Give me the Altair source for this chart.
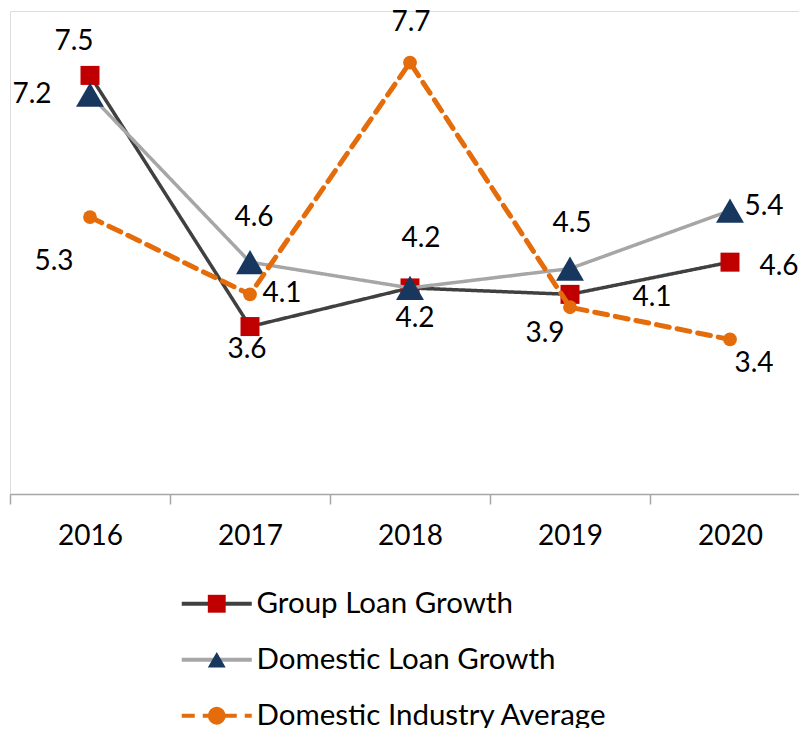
import altair as alt
import pandas as pd

# ---- data ----
years = ["2016", "2017", "2018", "2019", "2020"]
series_names = ["Group Loan Growth", "Domestic Loan Growth", "Domestic Industry Average"]
group_loan = [7.5, 3.6, 4.2, 4.1, 4.6]
domestic_loan = [7.2, 4.6, 4.2, 4.5, 5.4]
industry_avg = [5.3, 4.1, 7.7, 3.9, 3.4]

# ---- label nudges (pixels, relative to each marker), per series ----
label_dx = [[-16, -3, 5, 82, 49], [-58, 4, 11, 2, 34], [-36, 32, 1, -25, 24]]
label_dy = [[-33, 23, 31, 4, 5], [0, -44, -49, -45, -4], [45, 0, -40, 27, 25]]

# ---- styles ----
line_colors = ["#404040", "#A6A6A6", "#E46C0A"]
line_widths = [3.5, 3.5, 5]
dashes = [[1, 0], [1, 0], [13, 8]]
marker_keys = ["m1", "m2", "m3"]
marker_shapes = ["square", "triangle-up", "circle"]
marker_colors = ["#C00000", "#17375E", "#E46C0A"]
marker_sizes = [361, 780, 190]
FONT = "Lato"
FS = 28
LFS = 29.5

values = [group_loan, domestic_loan, industry_avg]
rows = []
for si, s in enumerate(series_names):
    for yi, y in enumerate(years):
        rows.append({"year": y, "series": s, "mk": marker_keys[si],
                     "value": values[si][yi], "label": f"{values[si][yi]:.1f}"})
df = pd.DataFrame(rows)

base = alt.Chart(df)

x_enc = alt.X(
    "year:N",
    scale=alt.Scale(type="band", domain=years, range=[0, 800], paddingInner=0, paddingOuter=0),
    axis=alt.Axis(title=None, domainColor="#A6A6A6", domainWidth=1.5, tickColor="#A6A6A6",
                  tickWidth=1.5, tickSize=10, tickBand="extent", labelFont=FONT,
                  labelFontSize=FS, labelColor="#000000", labelPadding=18, labelAngle=0,
                  grid=False),
)
y_enc = alt.Y("value:Q", scale=alt.Scale(domain=[1, 8.5], nice=False, zero=False), axis=None)

LX, LY, RP = 192, 578, 25
line_legend = alt.Legend(title=None, orient="none", legendX=LX, legendY=LY, padding=0,
                         symbolType="M-5,0L5,0", symbolSize=196, symbolStrokeWidth=4,
                         labelFont=FONT, labelFontSize=LFS, labelColor="#000000",
                         labelOffset=25, rowPadding=RP, labelLimit=0)
mk_legend = alt.Legend(title=None, orient="none", legendX=LX, legendY=LY, padding=0,
                       symbolSize=320, symbolStrokeWidth=0, labelOpacity=0,
                       labelFont=FONT, labelFontSize=LFS, labelOffset=25, rowPadding=RP,
                       labelLimit=0)

color_enc = alt.Color("series:N", scale=alt.Scale(domain=series_names, range=line_colors),
                      legend=line_legend)
dash_enc = alt.StrokeDash("series:N", scale=alt.Scale(domain=series_names, range=dashes),
                          legend=line_legend)
shape_enc = alt.Shape("mk:N", scale=alt.Scale(domain=marker_keys, range=marker_shapes),
                      legend=mk_legend)
fill_enc = alt.Fill("mk:N", scale=alt.Scale(domain=marker_keys, range=marker_colors),
                    legend=mk_legend)

layers = []
for si, s in enumerate(series_names):
    sub = base.transform_filter(alt.datum.series == s)
    layers.append(
        sub.mark_line(strokeWidth=line_widths[si], strokeJoin="round",
                      strokeCap="round" if si == 2 else "butt")
        .encode(x=x_enc, y=y_enc, color=color_enc, strokeDash=dash_enc)
    )
    layers.append(
        sub.mark_point(filled=True, size=marker_sizes[si], opacity=1, strokeWidth=0)
        .encode(x=x_enc, y=y_enc, shape=shape_enc, fill=fill_enc)
    )

for si, s in enumerate(series_names):
    for yi, y in enumerate(years):
        layers.append(
            base.transform_filter((alt.datum.series == s) & (alt.datum.year == y))
            .mark_text(font=FONT, fontSize=FS, color="#000000", align="center",
                       baseline="middle", dx=label_dx[si][yi], dy=label_dy[si][yi])
            .encode(x=x_enc, y=y_enc, text="label:N")
        )

chart = (
    alt.layer(*layers)
    .properties(width=789, height=483,
                autosize=alt.AutoSizeParams(type="none"),
                padding={"left": 2, "top": 3, "right": 0, "bottom": 234})
    .configure_view(stroke=None)
    .configure(background="white")
)

chart.save("out.html", embed_options={"renderer": "svg", "actions": False})
